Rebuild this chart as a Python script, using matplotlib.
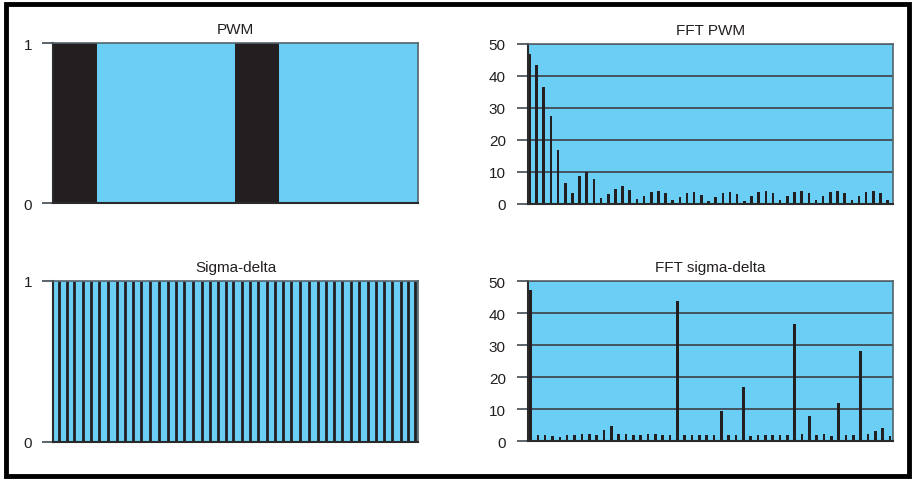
import matplotlib
matplotlib.use("Agg")
import matplotlib.pyplot as plt
from matplotlib.patches import Rectangle
import numpy as np

plt.rcParams['font.family'] = ['Liberation Sans', 'DejaVu Sans']

# ---------------- data ----------------
titles = ["PWM", "FFT PWM", "Sigma-delta", "FFT sigma-delta"]

# PWM: time axis 0..100, low (black) intervals
pwm_low_start = [0, 50]
pwm_low_width = 12

# Sigma-delta: times (0..100) of the narrow low pulses
sd_low_times = [1.7, 3.8, 5.8, 8.1, 10.4, 12.7, 15.2, 17.5, 19.6, 21.8, 24.2, 26.6,
                29.1, 31.4, 33.6, 36.0, 38.4, 40.7, 42.9, 45.2, 47.3, 49.4, 51.8,
                54.0, 56.2, 58.6, 60.9, 63.0, 65.3, 67.7, 70.1, 72.7, 74.9, 77.0,
                79.3, 81.6, 83.9, 86.3, 88.6, 90.7, 93.0, 95.3, 97.3, 99.1]

# FFT of PWM (51 bins)
fft_pwm = [47.0, 43.4, 36.5, 27.4, 16.8, 6.5, 3.4, 8.6, 10.0, 7.8,
           1.8, 3.2, 4.8, 5.7, 4.4, 1.5, 2.4, 3.6, 4.1, 3.3,
           1.3, 2.1, 3.3, 3.9, 2.9, 1.0, 2.1, 3.3, 3.9, 3.0,
           0.9, 2.4, 3.6, 4.2, 3.3, 1.25, 2.4, 3.6, 4.2, 3.3,
           1.25, 2.4, 3.6, 4.2, 3.3, 1.25, 2.4, 3.6, 4.2, 3.3, 1.25]

# FFT of sigma-delta (50 bins)
fft_sd = [47.3, 2.0, 1.9, 1.6, 1.25, 1.9, 1.9, 2.1, 2.1, 2.0,
          3.5, 4.7, 2.2, 2.2, 1.9, 1.8, 2.2, 2.2, 1.9, 1.9,
          43.75, 1.8, 1.8, 1.9, 1.8, 1.8, 9.3, 1.9, 1.9, 17.0,
          1.7, 1.9, 1.8, 1.8, 1.8, 1.9, 36.6, 2.2, 7.9, 1.8,
          2.1, 1.7, 11.8, 1.9, 1.8, 28.1, 2.2, 3.0, 4.2, 1.6]

fft_ticks = [0, 10, 20, 30, 40, 50]
sig_ticks = [0, 1]

# ---------------- style ----------------
BLUE = "#6BCFF5"
DARK = "#231F20"
GRID = "#3F4A52"
W, H = 917, 481

fig = plt.figure(figsize=(W / 100, H / 100), dpi=100)
fig.patch.set_facecolor("white")

def ax_at(x0, y0, x1, y1):
    return fig.add_axes([x0 / W, 1 - y1 / H, (x1 - x0) / W, (y1 - y0) / H])

def style(ax, title, ticks, pad):
    ax.set_facecolor(BLUE)
    ax.set_title(title, fontsize=11, color="#231F20", pad=7)
    ax.set_xticks([])
    ax.set_yticks(ticks)
    ax.tick_params(axis="y", length=8, width=1.2, color=GRID, pad=pad,
                   labelsize=11, labelcolor="#231F20")
    for s in ["top", "right"]:
        ax.spines[s].set_color("#55636B")
        ax.spines[s].set_linewidth(1.2)
    ax.spines["bottom"].set_color("#2A2A2A")
    ax.spines["bottom"].set_linewidth(1.5)
    ax.spines["left"].set_color("#2A2A2A")
    ax.spines["left"].set_linewidth(1.5)

# PWM
ax1 = ax_at(53, 44, 418, 204)
style(ax1, titles[0], sig_ticks, 7)
ax1.set_xlim(0, 100)
ax1.set_ylim(0, 1)
ax1.bar(pwm_low_start, [1] * len(pwm_low_start), width=pwm_low_width,
        align="edge", color=DARK, linewidth=0)

# FFT PWM
ax2 = ax_at(528, 45, 893, 205)
style(ax2, titles[1], fft_ticks, 8)
ax2.set_ylim(0, 50)
ax2.set_xlim(-0.2, 50.75)
ax2.set_axisbelow(True)
ax2.yaxis.grid(True, color=GRID, linewidth=1.3)
ax2.bar(np.arange(len(fft_pwm)), fft_pwm, width=0.36, color=DARK, linewidth=0)

# Sigma-delta
ax3 = ax_at(53, 282, 418, 443)
style(ax3, titles[2], sig_ticks, 7)
ax3.set_xlim(0, 100)
ax3.set_ylim(0, 1)
ax3.vlines(sd_low_times, 0, 1, color=DARK, linewidth=2.0)

# FFT sigma-delta
ax4 = ax_at(528, 282, 893, 442)
style(ax4, titles[3], fft_ticks, 8)
ax4.set_ylim(0, 50)
ax4.set_xlim(-0.35, 49.4)
ax4.set_axisbelow(True)
ax4.yaxis.grid(True, color=GRID, linewidth=1.3)
ax4.bar(np.arange(len(fft_sd)), fft_sd, width=0.34, color=DARK, linewidth=0)

# outer frame
fig.patches.append(Rectangle((6 / W, 4 / H), (W - 14) / W, (H - 9) / H,
                             transform=fig.transFigure, fill=False,
                             edgecolor="black", linewidth=3.5))

fig.savefig("out.png", dpi=100, facecolor="white")
